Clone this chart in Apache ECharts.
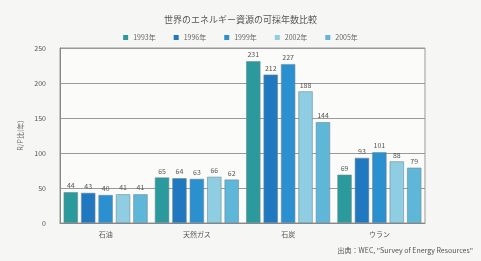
<!DOCTYPE html>
<html>
<head>
<meta charset="utf-8">
<script src="https://cdn.jsdelivr.net/npm/echarts@6/dist/echarts.min.js"></script>
<style>
  html, body { margin: 0; padding: 0; background: #f6f6f4; }
  #chart { width: 481px; height: 261px; }
</style>
</head>
<body>
<div id="chart"></div>
<script>
const categories = ['石油', '天然ガス', '石炭', 'ウラン'];
const years = ['1993年', '1996年', '1999年', '2002年', '2005年'];
const y1993 = [44, 65, 231, 69];
const y1996 = [43, 64, 212, 93];
const y1999 = [40, 63, 227, 101];
const y2002 = [41, 66, 188, 88];
const y2005 = [41, 62, 144, 79];
const yTicks = [0, 50, 100, 150, 200, 250];

const colors = ['#2a9a9c', '#1f78c0', '#2b90cf', '#8ecde2', '#5eb6d8'];
const seriesData = [y1993, y1996, y1999, y2002, y2005];

function createChart(elId) {
    const chartDom = document.getElementById(elId);
    const myChart = echarts.init(chartDom);

    const series = years.map(function (name, i) {
        return {
            name: name,
            type: 'bar',
            data: seriesData[i],
            barGap: '22%',
            barCategoryGap: '8%',
            itemStyle: {
                color: colors[i],
                borderColor: '#6f8a94',
                borderWidth: 0.6
            },
            label: {
                show: true,
                position: 'top',
                distance: 3,
                fontSize: 7,
                color: '#555',
                fontFamily: 'Noto Sans CJK JP'
            }
        };
    });

    const option = {
        backgroundColor: '#f6f6f4',
        animation: false,
        color: colors,
        title: {
            text: '世界のエネルギー資源の可採年数比較',
            left: 'center',
            top: 10,
            textStyle: {
                fontSize: 9,
                fontWeight: 'normal',
                color: '#555',
                fontFamily: 'Noto Sans CJK JP'
            }
        },
        legend: {
            top: 29,
            left: 'center',
            itemWidth: 5,
            itemHeight: 5,
            itemGap: 18,
            icon: 'rect',
            itemStyle: { borderWidth: 0 },
            textStyle: {
                fontSize: 7,
                color: '#666',
                fontFamily: 'Noto Sans CJK JP'
            },
            data: years
        },
        grid: {
            left: 60,
            right: 56,
            top: 48,
            bottom: 38,
            show: true,
            backgroundColor: '#fbfbfa',
            borderColor: '#999',
            borderWidth: 1
        },
        xAxis: {
            type: 'category',
            data: categories,
            axisTick: { show: false },
            axisLine: { lineStyle: { color: '#888' } },
            axisLabel: {
                fontSize: 7,
                color: '#555',
                margin: 8,
                fontFamily: 'Noto Sans CJK JP'
            }
        },
        yAxis: {
            type: 'value',
            min: 0,
            max: 250,
            interval: 50,
            name: 'R/P比(年)',
            nameLocation: 'middle',
            nameGap: 28,
            nameRotate: 90,
            nameTextStyle: {
                fontSize: 7,
                color: '#666',
                fontFamily: 'Noto Sans CJK JP'
            },
            axisLine: { show: true, lineStyle: { color: '#888' } },
            axisTick: { show: false },
            axisLabel: {
                fontSize: 7,
                color: '#555',
                margin: 14,
                fontFamily: 'Noto Sans CJK JP',
                formatter: function (v) { return yTicks.indexOf(v) >= 0 ? String(v) : ''; }
            },
            splitLine: { lineStyle: { color: '#999', width: 1 } }
        },
        graphic: [{
            type: 'text',
            right: 8,
            top: 247,
            style: {
                text: '出典：WEC, "Survey of Energy Resources"',
                fontSize: 7,
                fill: '#555',
                fontFamily: 'Noto Sans CJK JP'
            }
        }],
        series: series
    };
    myChart.setOption(option);
}

createChart('chart');
</script>
</body>
</html>
